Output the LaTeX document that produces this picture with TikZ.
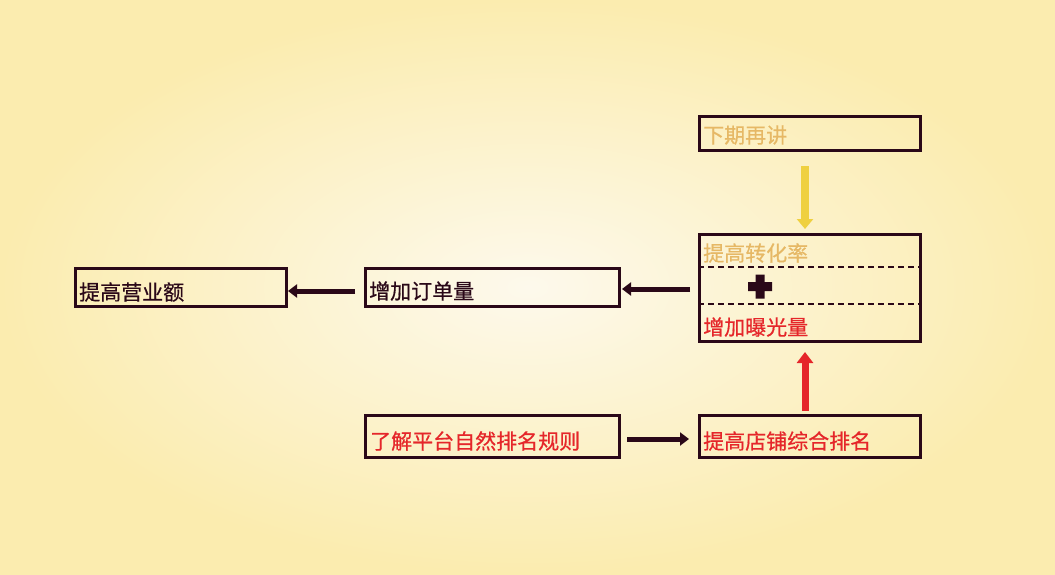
\documentclass[tikz,border=0pt]{standalone}
\usepackage{fontspec}
\newfontfamily\cjk[FakeBold=0.6]{Noto Sans CJK SC}
\usetikzlibrary{arrows.meta}
\definecolor{bd}{HTML}{2A0818}
\definecolor{gold}{HTML}{E6B865}
\definecolor{rd}{HTML}{E5262A}
\definecolor{ylw}{HTML}{EFD040}
\tikzset{x=1pt,y=-1pt,
 box/.style={draw=bd,line width=2.5pt},
 lbl/.style={anchor=west,font=\cjk\fontsize{21}{21}\selectfont,inner sep=0pt},
 blk/.style={-{Triangle[length=9pt,width=13pt]},line width=5pt,draw=bd}}
\begin{document}
\begin{tikzpicture}
\shade[inner color={rgb,255:red,253;green,249;blue,236},outer color={rgb,255:red,251;green,236;blue,175}] (0,0) rectangle (1055,574);
\node[box,minimum width=221pt,minimum height=34pt,anchor=north west] (a) at (698,115) {};
\node[lbl,text=gold] at (703,135) {下期再讲};
\node[box,minimum width=221pt,minimum height=107pt,anchor=north west] (b) at (698,233) {};
\draw[bd,line width=1.3pt,dash pattern=on 6pt off 4pt] (698,267) -- (919,267) (698,304) -- (919,304);
\node[lbl,text=gold] at (703,253) {提高转化率};
\fill[bd] (748,282) rectangle (772,291) (755.5,274.5) rectangle (764.5,298.5);
\node[lbl,text=rd] at (703,327) {增加曝光量};
\node[box,minimum width=211pt,minimum height=38pt,anchor=north west] (c) at (74,267) {};
\node[lbl,text=bd] at (79,292) {提高营业额};
\node[box,minimum width=254pt,minimum height=38pt,anchor=north west] (d) at (364,267) {};
\node[lbl,text=bd] at (369,291) {增加订单量};
\node[box,minimum width=254pt,minimum height=42pt,anchor=north west] (e) at (364,414) {};
\node[lbl,text=rd] at (370,441) {了解平台自然排名规则};
\node[box,minimum width=221pt,minimum height=42pt,anchor=north west] (f) at (698,414) {};
\node[lbl,text=rd] at (703,441) {提高店铺综合排名};
\coordinate (a1) at (805,166); \coordinate (a2) at (805,229);
\draw[-{Triangle[length=10pt,width=16pt]},line width=8pt,draw=ylw] (a1) -- (a2);
\coordinate (r1) at (805,411); \coordinate (r2) at (805,352);
\draw[-{Triangle[length=11pt,width=16pt]},line width=7pt,draw=rd] (r1) -- (r2);
\coordinate (p1) at (690,289); \coordinate (p2) at (622,289);
\draw[blk] (p1) -- (p2);
\coordinate (q1) at (355,291); \coordinate (q2) at (288,291);
\draw[blk] (q1) -- (q2);
\coordinate (s1) at (627,439); \coordinate (s2) at (689,439);
\draw[blk] (s1) -- (s2);
\end{tikzpicture}
\end{document}
